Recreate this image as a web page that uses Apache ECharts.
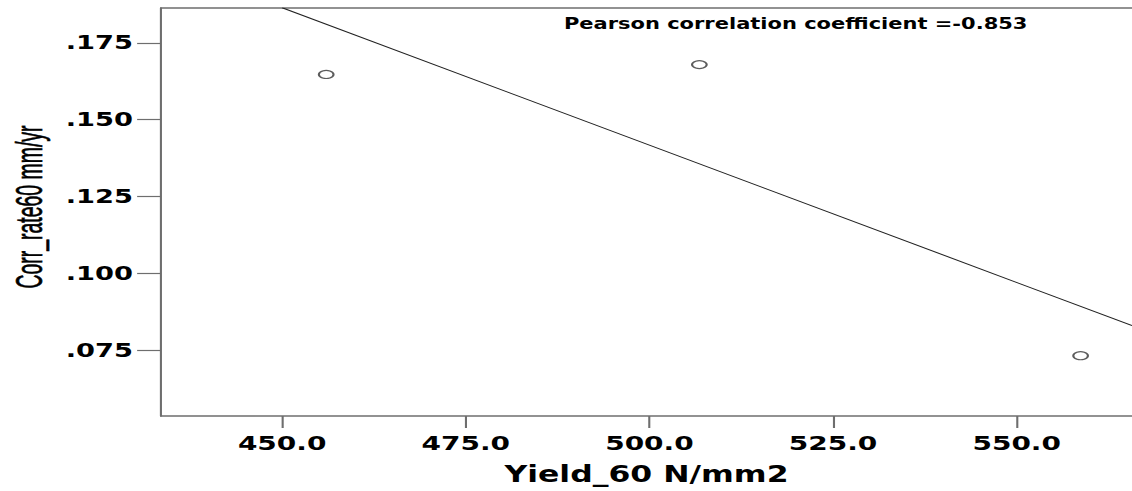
<!DOCTYPE html>
<html>
<head>
<meta charset="utf-8">
<script src="https://cdn.jsdelivr.net/npm/echarts@6/dist/echarts.min.js"></script>
<style>
  html, body { margin: 0; padding: 0; background: #fff; overflow: hidden; }
  #wrap { width: 1132px; height: 491px; overflow: hidden; position: relative; }
  #chart { width: 809px; height: 491px; transform: scaleX(1.3993); transform-origin: 0 0; }
</style>
</head>
<body>
<div id="wrap"><div id="chart"></div></div>
<script>
// Data
const yieldValues = [456.0, 506.8, 558.7];          // Yield_60 N/mm2
const corrRateValues = [0.1647, 0.1679, 0.0732];    // Corr_rate60 mm/yr
const fitLineX = [450.0, 565.7];                    // fit line end points (x)
const fitLineY = [0.1864, 0.0830];                  // fit line end points (y)
const xTickValues = [450, 475, 500, 525, 550];
const yTickValues = [0.075, 0.100, 0.125, 0.150, 0.175];
const xAxisTitle = 'Yield_60 N/mm2';
const yAxisTitle = 'Corr_rate60 mm/yr';
const noteText = 'Pearson correlation coefficient =-0.853';

const points = yieldValues.map((x, i) => [x, corrRateValues[i]]);
const fitPoints = fitLineX.map((x, i) => [x, fitLineY[i]]);

const axisGray = '#6e6e6e';
const chart = echarts.init(document.getElementById('chart'), null, { renderer: 'svg' });
chart.setOption({
  animation: false,
  backgroundColor: '#ffffff',
  title: {
    text: noteText,
    left: 403, top: 16, padding: 0,
    textStyle: { fontFamily: 'DejaVu Sans', fontWeight: 'bold', fontSize: 15, color: '#000' }
  },
  graphic: [{
    type: 'text',
    x: 20.5, y: 207,
    rotation: Math.PI / 2,
    scaleX: 0.72,
    silent: true,
    style: {
      text: yAxisTitle,
      font: '27px "Liberation Sans"',
      fill: '#000', stroke: '#000', lineWidth: 0.5,
      align: 'center', verticalAlign: 'middle'
    }
  }],
  grid: { left: 115, right: 0, top: 8, bottom: 72.5, containLabel: false },
  xAxis: [{
    type: 'value',
    min: 433.5, max: 565.7,
    name: xAxisTitle,
    nameLocation: 'middle',
    nameGap: 47,
    nameTextStyle: { fontFamily: 'DejaVu Sans', fontWeight: 'bold', fontSize: 22.5, color: '#000' },
    axisLine: { show: true, onZero: false, lineStyle: { color: axisGray, width: 1.5 } },
    axisTick: { show: true, length: 12, customValues: xTickValues, lineStyle: { color: axisGray, width: 1.5 } },
    axisLabel: {
      customValues: xTickValues, margin: 17,
      fontFamily: 'DejaVu Sans', fontWeight: 'bold', fontSize: 20, color: '#000',
      formatter: v => v.toFixed(1)
    },
    splitLine: { show: false }
  }, {
    type: 'value', position: 'top',
    min: 433.5, max: 565.7,
    axisLine: { show: true, onZero: false, lineStyle: { color: axisGray, width: 1.5 } },
    axisTick: { show: false }, axisLabel: { show: false }, splitLine: { show: false }
  }],
  yAxis: {
    type: 'value',
    min: 0.05359, max: 0.18632,
    axisLine: { show: true, onZero: false, lineStyle: { color: axisGray, width: 1.5 } },
    axisTick: { show: true, length: 17, customValues: yTickValues, lineStyle: { color: axisGray, width: 1.2 } },
    axisLabel: {
      customValues: yTickValues, margin: 20,
      fontFamily: 'DejaVu Sans', fontWeight: 'bold', fontSize: 19.5, color: '#000',
      formatter: v => v.toFixed(3).replace(/^0/, '')
    },
    splitLine: { show: false }
  },
  series: [{
    type: 'line',
    data: fitPoints,
    symbol: 'none',
    clip: true,
    lineStyle: { color: '#222', width: 1 },
    silent: true
  }, {
    type: 'scatter',
    data: points,
    symbol: 'circle',
    symbolSize: [10.5, 8],
    itemStyle: { color: '#fff', borderColor: '#333', borderWidth: 1.3 },
    silent: true
  }]
});
</script>
</body>
</html>
